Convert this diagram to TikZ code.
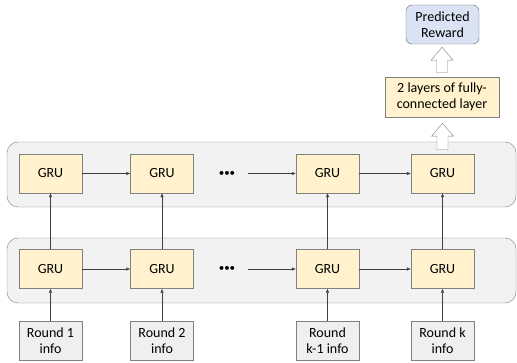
\documentclass[tikz,border=0pt]{standalone}
\usepackage{fontspec}
\setmainfont{Carlito}
\usepackage{tikz}
\usepackage{xcolor}
\usetikzlibrary{arrows.meta}
\usetikzlibrary{calc}
\definecolor{gruyellow}{HTML}{FFF2CC}
\definecolor{panelgray}{HTML}{F2F2F2}
\definecolor{infogray}{HTML}{EFEFEF}
\definecolor{predblue}{HTML}{DAE3F3}
\definecolor{edgegray}{HTML}{808080}
\definecolor{lineblack}{HTML}{404040}
\tikzset{
  boxtext/.style={font=\fontsize{14}{16}\selectfont, align=center, inner sep=0pt},
  grubox/.style={boxtext, draw=edgegray, fill=gruyellow, minimum width=63pt, minimum height=39pt},
  infobox/.style={boxtext, draw=edgegray, fill=infogray, minimum width=63pt, minimum height=39pt},
  fcbox/.style={boxtext, draw=edgegray, fill=gruyellow, minimum width=114pt, minimum height=40pt},
  predbox/.style={boxtext, draw=lineblack!80, fill=predblue, rounded corners=6pt, minimum width=73pt, minimum height=39pt},
  layerbox/.style={draw=edgegray, fill=panelgray, rounded corners=11pt},
  dotsnode/.style={font=\fontsize{11}{11}\selectfont, inner ysep=0pt, inner xsep=13pt},
  hollowarrow/.style={draw=edgegray, fill=white},
  flow/.style={draw=lineblack, -{Latex[length=4pt,width=3.5pt]}}
}
\begin{document}
\begin{tikzpicture}[x=1pt,y=1pt]
        \newcommand{\figgrucolax}{50.5}
        \newcommand{\figgrucolbx}{162}
        \newcommand{\figgrucolcx}{327.5}
        \newcommand{\figgrucoldx}{442.5}
        \newcommand{\figdotsx}{227}
        \newcommand{\figgrurowtopy}{188.5}
        \newcommand{\figgrurowboty}{93}
        \newcommand{\figinforowy}{21.5}
        \newcommand{\figfcy}{265}
        \newcommand{\figpredy}{337.5}
        \newcommand{\figlayerxstart}{7}
        \newcommand{\figlayerxend}{516}
        % hollow arrow from tail (#1) to tip (#2)
        \newcommand{\fighollowarrow}[2]{%
          \draw[hollowarrow] let \p1=(#1), \p2=(#2) in
            (\x1-5.5,\y1) -- (\x1-5.5,\y2-13) -- (\x1-11,\y2-13) -- (\x1,\y2)
            -- (\x1+11,\y2-13) -- (\x1+5.5,\y2-13) -- (\x1+5.5,\y1) -- cycle;}
        \useasboundingbox (0,0) rectangle (517,362);
        \draw[layerbox] (\figlayerxstart,155) rectangle (\figlayerxend,220);
        \draw[layerbox] (\figlayerxstart,59) rectangle (\figlayerxend,124);
        \node[grubox] (gruta) at (\figgrucolax,\figgrurowtopy) {GRU};
        \node[grubox] (grutb) at (\figgrucolbx,\figgrurowtopy) {GRU};
        \node[grubox] (grutc) at (\figgrucolcx,\figgrurowtopy) {GRU};
        \node[grubox] (grutd) at (\figgrucoldx,\figgrurowtopy) {GRU};
        \node[grubox] (gruba) at (\figgrucolax,\figgrurowboty) {GRU};
        \node[grubox] (grubb) at (\figgrucolbx,\figgrurowboty) {GRU};
        \node[grubox] (grubc) at (\figgrucolcx,\figgrurowboty) {GRU};
        \node[grubox] (grubd) at (\figgrucoldx,\figgrurowboty) {GRU};
        \node[dotsnode] (dotst) at (\figdotsx,\figgrurowtopy) {\textbullet\textbullet\textbullet};
        \node[dotsnode] (dotsb) at (\figdotsx,\figgrurowboty) {\textbullet\textbullet\textbullet};
        \node[infobox] (infoa) at (\figgrucolax,\figinforowy) {Round 1\\info};
        \node[infobox] (infob) at (\figgrucolbx,\figinforowy) {Round 2\\info};
        \node[infobox] (infoc) at (\figgrucolcx,\figinforowy) {Round\\k-1 info};
        \node[infobox] (infod) at (\figgrucoldx,\figinforowy) {Round k\\info};
        \node[fcbox] (fc) at (\figgrucoldx-0.5,\figfcy) {2 layers of fully-\\connected layer};
        \node[predbox] (pred) at (\figgrucoldx,\figpredy) {Predicted\\Reward};
        \draw[flow] (gruta) -- (grutb);
        \draw[flow] (dotst) -- (grutc);
        \draw[flow] (grutc) -- (grutd);
        \draw[flow] (gruba) -- (grubb);
        \draw[flow] (dotsb) -- (grubc);
        \draw[flow] (grubc) -- (grubd);
        \draw[flow] (gruba) -- (gruta);
        \draw[flow] (grubb) -- (grutb);
        \draw[flow] (grubc) -- (grutc);
        \draw[flow] (grubd) -- (grutd);
        \draw[flow] (infoa) -- (gruba);
        \draw[flow] (infob) -- (grubb);
        \draw[flow] (infoc) -- (grubc);
        \draw[flow] (infod) -- (grubd);
        \coordinate (hatail) at ($(grutd.north)+(0,4)$);
        \coordinate (hatip) at ($(fc.south)+(0,-6)$);
        \coordinate (hbtail) at ($(fc.north)+(0,4)$);
        \coordinate (hbtip) at ($(pred.south)+(0,-3)$);
        \fighollowarrow{hatail}{hatip}
        \fighollowarrow{hbtail}{hbtip}
\end{tikzpicture}
\end{document}
